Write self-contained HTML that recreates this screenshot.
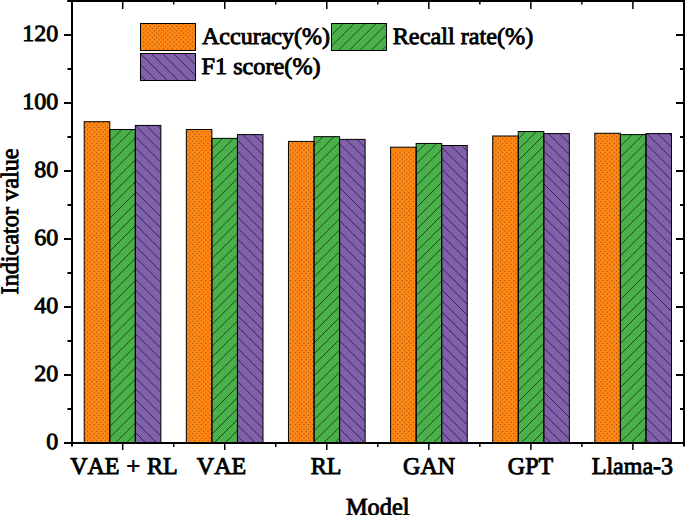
<!DOCTYPE html>
<html><head><meta charset="utf-8"><style>
html,body{margin:0;padding:0;background:#fff;width:685px;height:515px;overflow:hidden;}
svg{display:block;}
text{font-family:"Liberation Serif",serif;fill:#000;font-kerning:none;text-rendering:geometricPrecision;}
.b{stroke:#000;stroke-width:0.90px;}
.t{stroke:#000;stroke-width:0.35px;}
</style></head><body>
<svg width="685" height="515" viewBox="0 0 685 515">
<defs>
<clipPath id="cO"><rect x="84.22" y="121.70" width="25.55" height="321.30"/><rect x="186.34" y="129.52" width="25.55" height="313.48"/><rect x="288.46" y="141.42" width="25.55" height="301.58"/><rect x="390.58" y="147.20" width="25.55" height="295.80"/><rect x="492.70" y="135.98" width="25.55" height="307.02"/><rect x="594.82" y="133.26" width="25.55" height="309.74"/></clipPath>
<clipPath id="cG"><rect x="109.77" y="129.52" width="25.55" height="313.48"/><rect x="211.89" y="138.36" width="25.55" height="304.64"/><rect x="314.01" y="136.66" width="25.55" height="306.34"/><rect x="416.13" y="143.46" width="25.55" height="299.54"/><rect x="518.25" y="131.56" width="25.55" height="311.44"/><rect x="620.37" y="134.62" width="25.55" height="308.38"/></clipPath>
<clipPath id="cP"><rect x="135.33" y="125.44" width="25.55" height="317.56"/><rect x="237.45" y="134.62" width="25.55" height="308.38"/><rect x="339.57" y="139.38" width="25.55" height="303.62"/><rect x="441.69" y="145.50" width="25.55" height="297.50"/><rect x="543.81" y="133.60" width="25.55" height="309.40"/><rect x="645.93" y="133.60" width="25.55" height="309.40"/></clipPath>
<clipPath id="lO"><rect x="140.5" y="23.5" width="55" height="27"/></clipPath>
<clipPath id="lP"><rect x="140.5" y="53.5" width="55" height="27"/></clipPath>
<clipPath id="lG"><rect x="331.5" y="23.5" width="55" height="27"/></clipPath>
</defs>
<g clip-path="url(#cO)"><rect x="80" y="115" width="600" height="330" fill="#FF8716"/>
<path d="M71.38 114.05H682.0M73.61 116.30H682.0M71.38 118.55H682.0M73.61 120.80H682.0M71.38 123.05H682.0M73.61 125.30H682.0M71.38 127.55H682.0M73.61 129.80H682.0M71.38 132.05H682.0M73.61 134.30H682.0M71.38 136.55H682.0M73.61 138.80H682.0M71.38 141.05H682.0M73.61 143.30H682.0M71.38 145.55H682.0M73.61 147.80H682.0M71.38 150.05H682.0M73.61 152.30H682.0M71.38 154.55H682.0M73.61 156.80H682.0M71.38 159.05H682.0M73.61 161.30H682.0M71.38 163.55H682.0M73.61 165.80H682.0M71.38 168.05H682.0M73.61 170.30H682.0M71.38 172.55H682.0M73.61 174.80H682.0M71.38 177.05H682.0M73.61 179.30H682.0M71.38 181.55H682.0M73.61 183.80H682.0M71.38 186.05H682.0M73.61 188.30H682.0M71.38 190.55H682.0M73.61 192.80H682.0M71.38 195.05H682.0M73.61 197.30H682.0M71.38 199.55H682.0M73.61 201.80H682.0M71.38 204.05H682.0M73.61 206.30H682.0M71.38 208.55H682.0M73.61 210.80H682.0M71.38 213.05H682.0M73.61 215.30H682.0M71.38 217.55H682.0M73.61 219.80H682.0M71.38 222.05H682.0M73.61 224.30H682.0M71.38 226.55H682.0M73.61 228.80H682.0M71.38 231.05H682.0M73.61 233.30H682.0M71.38 235.55H682.0M73.61 237.80H682.0M71.38 240.05H682.0M73.61 242.30H682.0M71.38 244.55H682.0M73.61 246.80H682.0M71.38 249.05H682.0M73.61 251.30H682.0M71.38 253.55H682.0M73.61 255.80H682.0M71.38 258.05H682.0M73.61 260.30H682.0M71.38 262.55H682.0M73.61 264.80H682.0M71.38 267.05H682.0M73.61 269.30H682.0M71.38 271.55H682.0M73.61 273.80H682.0M71.38 276.05H682.0M73.61 278.30H682.0M71.38 280.55H682.0M73.61 282.80H682.0M71.38 285.05H682.0M73.61 287.30H682.0M71.38 289.55H682.0M73.61 291.80H682.0M71.38 294.05H682.0M73.61 296.30H682.0M71.38 298.55H682.0M73.61 300.80H682.0M71.38 303.05H682.0M73.61 305.30H682.0M71.38 307.55H682.0M73.61 309.80H682.0M71.38 312.05H682.0M73.61 314.30H682.0M71.38 316.55H682.0M73.61 318.80H682.0M71.38 321.05H682.0M73.61 323.30H682.0M71.38 325.55H682.0M73.61 327.80H682.0M71.38 330.05H682.0M73.61 332.30H682.0M71.38 334.55H682.0M73.61 336.80H682.0M71.38 339.05H682.0M73.61 341.30H682.0M71.38 343.55H682.0M73.61 345.80H682.0M71.38 348.05H682.0M73.61 350.30H682.0M71.38 352.55H682.0M73.61 354.80H682.0M71.38 357.05H682.0M73.61 359.30H682.0M71.38 361.55H682.0M73.61 363.80H682.0M71.38 366.05H682.0M73.61 368.30H682.0M71.38 370.55H682.0M73.61 372.80H682.0M71.38 375.05H682.0M73.61 377.30H682.0M71.38 379.55H682.0M73.61 381.80H682.0M71.38 384.05H682.0M73.61 386.30H682.0M71.38 388.55H682.0M73.61 390.80H682.0M71.38 393.05H682.0M73.61 395.30H682.0M71.38 397.55H682.0M73.61 399.80H682.0M71.38 402.05H682.0M73.61 404.30H682.0M71.38 406.55H682.0M73.61 408.80H682.0M71.38 411.05H682.0M73.61 413.30H682.0M71.38 415.55H682.0M73.61 417.80H682.0M71.38 420.05H682.0M73.61 422.30H682.0M71.38 424.55H682.0M73.61 426.80H682.0M71.38 429.05H682.0M73.61 431.30H682.0M71.38 433.55H682.0M73.61 435.80H682.0M71.38 438.05H682.0M73.61 440.30H682.0M71.38 442.55H682.0M73.61 444.80H682.0" stroke="#8c4c08" stroke-width="1" stroke-dasharray="1 3.464" fill="none"/></g>
<g clip-path="url(#cG)"><rect x="80" y="115" width="600" height="330" fill="#4AB04A"/>
<path d="M61.56 113.00L-272.44 447.00M72.52 113.00L-261.48 447.00M83.49 113.00L-250.51 447.00M94.45 113.00L-239.55 447.00M105.42 113.00L-228.58 447.00M116.38 113.00L-217.62 447.00M127.34 113.00L-206.66 447.00M138.31 113.00L-195.69 447.00M149.27 113.00L-184.73 447.00M160.24 113.00L-173.76 447.00M171.20 113.00L-162.80 447.00M182.16 113.00L-151.84 447.00M193.13 113.00L-140.87 447.00M204.09 113.00L-129.91 447.00M215.06 113.00L-118.94 447.00M226.02 113.00L-107.98 447.00M236.98 113.00L-97.02 447.00M247.95 113.00L-86.05 447.00M258.91 113.00L-75.09 447.00M269.88 113.00L-64.12 447.00M280.84 113.00L-53.16 447.00M291.80 113.00L-42.20 447.00M302.77 113.00L-31.23 447.00M313.73 113.00L-20.27 447.00M324.70 113.00L-9.30 447.00M335.66 113.00L1.66 447.00M346.62 113.00L12.62 447.00M357.59 113.00L23.59 447.00M368.55 113.00L34.55 447.00M379.52 113.00L45.52 447.00M390.48 113.00L56.48 447.00M401.44 113.00L67.44 447.00M412.41 113.00L78.41 447.00M423.37 113.00L89.37 447.00M434.34 113.00L100.34 447.00M445.30 113.00L111.30 447.00M456.26 113.00L122.26 447.00M467.23 113.00L133.23 447.00M478.19 113.00L144.19 447.00M489.16 113.00L155.16 447.00M500.12 113.00L166.12 447.00M511.08 113.00L177.08 447.00M522.05 113.00L188.05 447.00M533.01 113.00L199.01 447.00M543.98 113.00L209.98 447.00M554.94 113.00L220.94 447.00M565.90 113.00L231.90 447.00M576.87 113.00L242.87 447.00M587.83 113.00L253.83 447.00M598.80 113.00L264.80 447.00M609.76 113.00L275.76 447.00M620.72 113.00L286.72 447.00M631.69 113.00L297.69 447.00M642.65 113.00L308.65 447.00M653.62 113.00L319.62 447.00M664.58 113.00L330.58 447.00M675.54 113.00L341.54 447.00M686.51 113.00L352.51 447.00M697.47 113.00L363.47 447.00M708.44 113.00L374.44 447.00M719.40 113.00L385.40 447.00M730.36 113.00L396.36 447.00M741.33 113.00L407.33 447.00M752.29 113.00L418.29 447.00M763.26 113.00L429.26 447.00M774.22 113.00L440.22 447.00M785.18 113.00L451.18 447.00M796.15 113.00L462.15 447.00M807.11 113.00L473.11 447.00M818.08 113.00L484.08 447.00M829.04 113.00L495.04 447.00M840.00 113.00L506.00 447.00M850.97 113.00L516.97 447.00M861.93 113.00L527.93 447.00M872.90 113.00L538.90 447.00M883.86 113.00L549.86 447.00M894.82 113.00L560.82 447.00M905.79 113.00L571.79 447.00M916.75 113.00L582.75 447.00M927.72 113.00L593.72 447.00M938.68 113.00L604.68 447.00M949.64 113.00L615.64 447.00M960.61 113.00L626.61 447.00M971.57 113.00L637.57 447.00M982.54 113.00L648.54 447.00M993.50 113.00L659.50 447.00M1004.46 113.00L670.46 447.00M1015.43 113.00L681.43 447.00M1026.39 113.00L692.39 447.00" stroke="#102010" stroke-width="0.8" fill="none" opacity="0.9"/></g>
<g clip-path="url(#cP)"><rect x="80" y="115" width="600" height="330" fill="#8060AA"/>
<path d="M-271.60 113.00L62.40 447.00M-260.65 113.00L73.35 447.00M-249.70 113.00L84.30 447.00M-238.75 113.00L95.25 447.00M-227.80 113.00L106.20 447.00M-216.85 113.00L117.15 447.00M-205.90 113.00L128.10 447.00M-194.95 113.00L139.05 447.00M-184.00 113.00L150.00 447.00M-173.05 113.00L160.95 447.00M-162.10 113.00L171.90 447.00M-151.15 113.00L182.85 447.00M-140.20 113.00L193.80 447.00M-129.25 113.00L204.75 447.00M-118.30 113.00L215.70 447.00M-107.35 113.00L226.65 447.00M-96.40 113.00L237.60 447.00M-85.45 113.00L248.55 447.00M-74.50 113.00L259.50 447.00M-63.55 113.00L270.45 447.00M-52.60 113.00L281.40 447.00M-41.65 113.00L292.35 447.00M-30.70 113.00L303.30 447.00M-19.75 113.00L314.25 447.00M-8.80 113.00L325.20 447.00M2.15 113.00L336.15 447.00M13.10 113.00L347.10 447.00M24.05 113.00L358.05 447.00M35.00 113.00L369.00 447.00M45.95 113.00L379.95 447.00M56.90 113.00L390.90 447.00M67.85 113.00L401.85 447.00M78.80 113.00L412.80 447.00M89.75 113.00L423.75 447.00M100.70 113.00L434.70 447.00M111.65 113.00L445.65 447.00M122.60 113.00L456.60 447.00M133.55 113.00L467.55 447.00M144.50 113.00L478.50 447.00M155.45 113.00L489.45 447.00M166.40 113.00L500.40 447.00M177.35 113.00L511.35 447.00M188.30 113.00L522.30 447.00M199.25 113.00L533.25 447.00M210.20 113.00L544.20 447.00M221.15 113.00L555.15 447.00M232.10 113.00L566.10 447.00M243.05 113.00L577.05 447.00M254.00 113.00L588.00 447.00M264.95 113.00L598.95 447.00M275.90 113.00L609.90 447.00M286.85 113.00L620.85 447.00M297.80 113.00L631.80 447.00M308.75 113.00L642.75 447.00M319.70 113.00L653.70 447.00M330.65 113.00L664.65 447.00M341.60 113.00L675.60 447.00M352.55 113.00L686.55 447.00M363.50 113.00L697.50 447.00M374.45 113.00L708.45 447.00M385.40 113.00L719.40 447.00M396.35 113.00L730.35 447.00M407.30 113.00L741.30 447.00M418.25 113.00L752.25 447.00M429.20 113.00L763.20 447.00M440.15 113.00L774.15 447.00M451.10 113.00L785.10 447.00M462.05 113.00L796.05 447.00M473.00 113.00L807.00 447.00M483.95 113.00L817.95 447.00M494.90 113.00L828.90 447.00M505.85 113.00L839.85 447.00M516.80 113.00L850.80 447.00M527.75 113.00L861.75 447.00M538.70 113.00L872.70 447.00M549.65 113.00L883.65 447.00M560.60 113.00L894.60 447.00M571.55 113.00L905.55 447.00M582.50 113.00L916.50 447.00M593.45 113.00L927.45 447.00M604.40 113.00L938.40 447.00M615.35 113.00L949.35 447.00M626.30 113.00L960.30 447.00M637.25 113.00L971.25 447.00M648.20 113.00L982.20 447.00M659.15 113.00L993.15 447.00M670.10 113.00L1004.10 447.00M681.05 113.00L1015.05 447.00M692.00 113.00L1026.00 447.00" stroke="#1a1028" stroke-width="0.8" fill="none" opacity="0.9"/></g>
<g fill="none" stroke="#000" stroke-width="1">
<rect x="84.22" y="121.70" width="25.55" height="321.30"/>
<rect x="186.34" y="129.52" width="25.55" height="313.48"/>
<rect x="288.46" y="141.42" width="25.55" height="301.58"/>
<rect x="390.58" y="147.20" width="25.55" height="295.80"/>
<rect x="492.70" y="135.98" width="25.55" height="307.02"/>
<rect x="594.82" y="133.26" width="25.55" height="309.74"/>
<rect x="109.77" y="129.52" width="25.55" height="313.48"/>
<rect x="211.89" y="138.36" width="25.55" height="304.64"/>
<rect x="314.01" y="136.66" width="25.55" height="306.34"/>
<rect x="416.13" y="143.46" width="25.55" height="299.54"/>
<rect x="518.25" y="131.56" width="25.55" height="311.44"/>
<rect x="620.37" y="134.62" width="25.55" height="308.38"/>
<rect x="135.33" y="125.44" width="25.55" height="317.56"/>
<rect x="237.45" y="134.62" width="25.55" height="308.38"/>
<rect x="339.57" y="139.38" width="25.55" height="303.62"/>
<rect x="441.69" y="145.50" width="25.55" height="297.50"/>
<rect x="543.81" y="133.60" width="25.55" height="309.40"/>
<rect x="645.93" y="133.60" width="25.55" height="309.40"/>
</g>
<g stroke="#000" stroke-width="2" fill="none">
<line x1="64" y1="443" x2="685" y2="443"/>
<line x1="67.5" y1="1" x2="685" y2="1"/>
<line x1="72" y1="0" x2="72" y2="446.5"/>
<line x1="684" y1="0" x2="684" y2="446.5"/>
<line x1="64" y1="443.0" x2="72" y2="443.0"/>
<line x1="676" y1="443.0" x2="684" y2="443.0"/>
<line x1="67.5" y1="409.0" x2="72" y2="409.0"/>
<line x1="680" y1="409.0" x2="684" y2="409.0"/>
<line x1="64" y1="375.0" x2="72" y2="375.0"/>
<line x1="676" y1="375.0" x2="684" y2="375.0"/>
<line x1="67.5" y1="341.0" x2="72" y2="341.0"/>
<line x1="680" y1="341.0" x2="684" y2="341.0"/>
<line x1="64" y1="307.0" x2="72" y2="307.0"/>
<line x1="676" y1="307.0" x2="684" y2="307.0"/>
<line x1="67.5" y1="273.0" x2="72" y2="273.0"/>
<line x1="680" y1="273.0" x2="684" y2="273.0"/>
<line x1="64" y1="239.0" x2="72" y2="239.0"/>
<line x1="676" y1="239.0" x2="684" y2="239.0"/>
<line x1="67.5" y1="205.0" x2="72" y2="205.0"/>
<line x1="680" y1="205.0" x2="684" y2="205.0"/>
<line x1="64" y1="171.0" x2="72" y2="171.0"/>
<line x1="676" y1="171.0" x2="684" y2="171.0"/>
<line x1="67.5" y1="137.0" x2="72" y2="137.0"/>
<line x1="680" y1="137.0" x2="684" y2="137.0"/>
<line x1="64" y1="103.0" x2="72" y2="103.0"/>
<line x1="676" y1="103.0" x2="684" y2="103.0"/>
<line x1="67.5" y1="69.0" x2="72" y2="69.0"/>
<line x1="680" y1="69.0" x2="684" y2="69.0"/>
<line x1="64" y1="35.0" x2="72" y2="35.0"/>
<line x1="676" y1="35.0" x2="684" y2="35.0"/>
<line x1="67.5" y1="1.0" x2="72" y2="1.0"/>
<line x1="680" y1="1.0" x2="684" y2="1.0"/>
<line x1="122.70" y1="443" x2="122.70" y2="450" stroke-width="1.5"/>
<line x1="122.70" y1="0" x2="122.70" y2="9" stroke-width="1.5"/>
<line x1="224.74" y1="443" x2="224.74" y2="450" stroke-width="1.5"/>
<line x1="224.74" y1="0" x2="224.74" y2="9" stroke-width="1.5"/>
<line x1="326.78" y1="443" x2="326.78" y2="450" stroke-width="1.5"/>
<line x1="326.78" y1="0" x2="326.78" y2="9" stroke-width="1.5"/>
<line x1="428.82" y1="443" x2="428.82" y2="450" stroke-width="1.5"/>
<line x1="428.82" y1="0" x2="428.82" y2="9" stroke-width="1.5"/>
<line x1="530.86" y1="443" x2="530.86" y2="450" stroke-width="1.5"/>
<line x1="530.86" y1="0" x2="530.86" y2="9" stroke-width="1.5"/>
<line x1="632.90" y1="443" x2="632.90" y2="450" stroke-width="1.5"/>
<line x1="632.90" y1="0" x2="632.90" y2="9" stroke-width="1.5"/>
<line x1="173.72" y1="443" x2="173.72" y2="447" stroke-width="1.5"/>
<line x1="173.72" y1="0" x2="173.72" y2="4.5" stroke-width="1.5"/>
<line x1="275.76" y1="443" x2="275.76" y2="447" stroke-width="1.5"/>
<line x1="275.76" y1="0" x2="275.76" y2="4.5" stroke-width="1.5"/>
<line x1="377.80" y1="443" x2="377.80" y2="447" stroke-width="1.5"/>
<line x1="377.80" y1="0" x2="377.80" y2="4.5" stroke-width="1.5"/>
<line x1="479.84" y1="443" x2="479.84" y2="447" stroke-width="1.5"/>
<line x1="479.84" y1="0" x2="479.84" y2="4.5" stroke-width="1.5"/>
<line x1="581.88" y1="443" x2="581.88" y2="447" stroke-width="1.5"/>
<line x1="581.88" y1="0" x2="581.88" y2="4.5" stroke-width="1.5"/>
</g>
<text class="b" transform="translate(58.30,449.30) scale(1.000,0.960)" font-size="24.00" text-anchor="end">0</text>
<text class="b" transform="translate(58.30,381.30) scale(1.000,0.960)" font-size="24.00" text-anchor="end">20</text>
<text class="b" transform="translate(58.30,313.30) scale(1.000,0.960)" font-size="24.00" text-anchor="end">40</text>
<text class="b" transform="translate(58.30,245.30) scale(1.000,0.960)" font-size="24.00" text-anchor="end">60</text>
<text class="b" transform="translate(58.30,177.30) scale(1.000,0.960)" font-size="24.00" text-anchor="end">80</text>
<text class="b" transform="translate(58.30,109.30) scale(1.000,0.960)" font-size="24.00" text-anchor="end">100</text>
<text class="b" transform="translate(58.30,41.30) scale(1.000,0.960)" font-size="24.00" text-anchor="end">120</text>
<text word-spacing="1" class="b" transform="translate(123.95,474.10) scale(1.000,1.000)" font-size="24.00" text-anchor="middle">VAE + RL</text>
<text class="b" transform="translate(221.50,474.10) scale(1.000,1.000)" font-size="24.00" text-anchor="middle">VAE</text>
<text class="b" transform="translate(326.10,474.10) scale(1.000,1.000)" font-size="24.00" text-anchor="middle">RL</text>
<text class="b" transform="translate(429.10,474.10) scale(1.000,1.000)" font-size="24.00" text-anchor="middle">GAN</text>
<text class="b" transform="translate(530.50,474.10) scale(1.000,1.000)" font-size="24.00" text-anchor="middle">GPT</text>
<text class="b" transform="translate(632.40,474.10) scale(1.000,1.000)" font-size="24.00" text-anchor="middle">Llama-3</text>
<g clip-path="url(#lO)"><rect x="140" y="23" width="56" height="28" fill="#FF8716"/>
<path d="M131.64 21.80H200.0M129.41 24.05H200.0M131.64 26.30H200.0M129.41 28.55H200.0M131.64 30.80H200.0M129.41 33.05H200.0M131.64 35.30H200.0M129.41 37.55H200.0M131.64 39.80H200.0M129.41 42.05H200.0M131.64 44.30H200.0M129.41 46.55H200.0M131.64 48.80H200.0M129.41 51.05H200.0M131.64 53.30H200.0" stroke="#8c4c08" stroke-width="1" stroke-dasharray="1 3.464" fill="none"/></g>
<g clip-path="url(#lP)"><rect x="140" y="53" width="56" height="28" fill="#8060AA"/>
<path d="M92.15 49.00L128.15 85.00M103.10 49.00L139.10 85.00M114.05 49.00L150.05 85.00M125.00 49.00L161.00 85.00M135.95 49.00L171.95 85.00M146.90 49.00L182.90 85.00M157.85 49.00L193.85 85.00M168.80 49.00L204.80 85.00M179.75 49.00L215.75 85.00M190.70 49.00L226.70 85.00M201.65 49.00L237.65 85.00M212.60 49.00L248.60 85.00" stroke="#1a1028" stroke-width="0.8" fill="none" opacity="0.9"/></g>
<g clip-path="url(#lG)"><rect x="331" y="23" width="56" height="28" fill="#4AB04A"/>
<path d="M314.90 19.00L278.90 55.00M325.85 19.00L289.85 55.00M336.80 19.00L300.80 55.00M347.75 19.00L311.75 55.00M358.70 19.00L322.70 55.00M369.65 19.00L333.65 55.00M380.60 19.00L344.60 55.00M391.55 19.00L355.55 55.00M402.50 19.00L366.50 55.00M413.45 19.00L377.45 55.00M424.40 19.00L388.40 55.00M435.35 19.00L399.35 55.00" stroke="#102010" stroke-width="0.8" fill="none" opacity="0.9"/></g>
<g fill="none" stroke="#000" stroke-width="1">
<rect x="140.5" y="23.5" width="55" height="27"/>
<rect x="140.5" y="53.5" width="55" height="27"/>
<rect x="331.5" y="23.5" width="55" height="27"/>
</g>
<text class="b" transform="translate(202.00,44.35) scale(1.000,0.980)" font-size="24.00" text-anchor="start">Accuracy(%)</text>
<text class="b" transform="translate(392.70,44.35) scale(1.010,0.980)" font-size="24.00" text-anchor="start">Recall rate(%)</text>
<text class="b" transform="translate(201.50,74.30) scale(1.010,0.980)" font-size="24.00" text-anchor="start">F1 score(%)</text>
<text class="b" transform="translate(377.75,515.30) scale(0.975,0.980)" font-size="25.00" text-anchor="middle">Model</text>
<text class="b" transform="translate(17.9,221.45) rotate(-90) scale(0.969,1.0)" font-size="25" text-anchor="middle">Indicator value</text>
</svg>
</body></html>
